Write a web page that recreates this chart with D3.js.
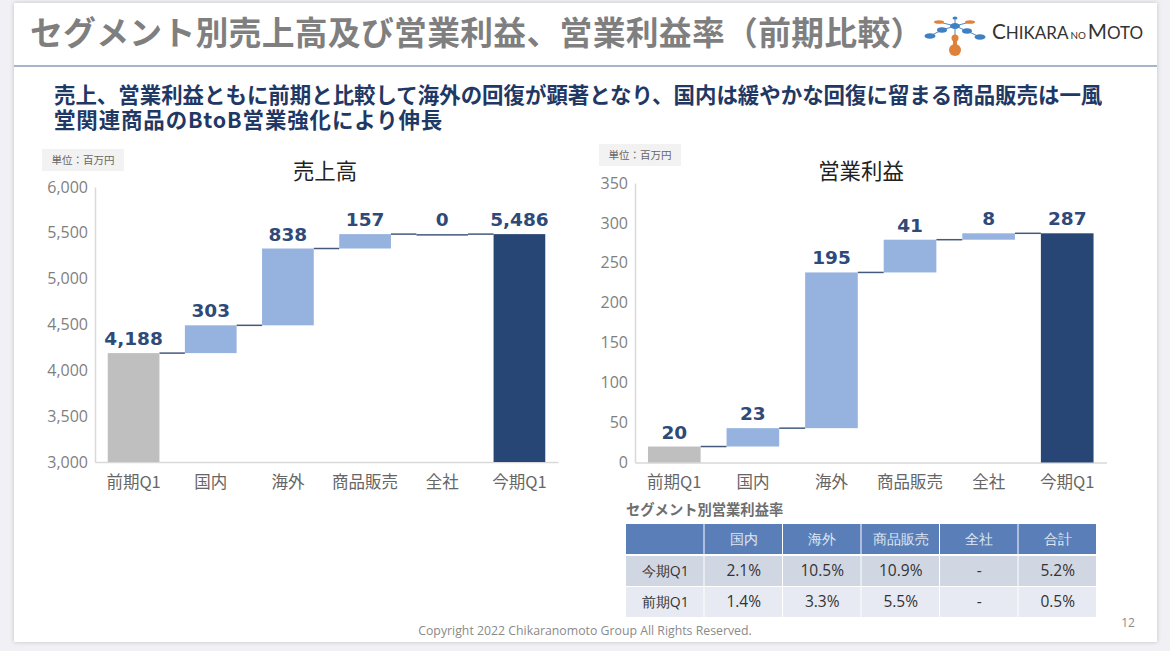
<!DOCTYPE html>
<html>
<head>
<meta charset="utf-8">
<script src="https://cdn.jsdelivr.net/npm/d3@7"></script>
<style>
html,body{margin:0;padding:0;background:#f1f1f5;}
svg{display:block;}
text{font-family:"Noto Sans CJK JP","Noto Sans",sans-serif;}
.num{font-family:"Open Sans","Noto Sans",sans-serif;}
.val{font-family:"DejaVu Sans",sans-serif;}
</style>
</head>
<body>
<div id="chart"></div>
<script>
const categories = ['前期Q1','国内','海外','商品販売','全社','今期Q1'];
const salesValues = [4188,303,838,157,0,5486];
const salesLabels = ['4,188','303','838','157','0','5,486'];
const profitValues = [20,23,195,41,8,287];
const profitLabels = ['20','23','195','41','8','287'];
const salesTicks = [3000,3500,4000,4500,5000,5500,6000];
const profitTicks = [0,50,100,150,200,250,300,350];
const tableHead = ['','国内','海外','商品販売','全社','合計'];
const tableRow1 = ['今期Q1','2.1%','10.5%','10.9%','-','5.2%'];
const tableRow2 = ['前期Q1','1.4%','3.3%','5.5%','-','0.5%'];

const W = 1170, H = 651;
const svg = d3.select('#chart').append('svg').attr('width',W).attr('height',H);

//slide
svg.append('rect').attr('x',14).attr('y',3).attr('width',1143).attr('height',639).attr('fill','#fff')
	.style('filter','drop-shadow(0 0 2px rgba(0,0,0,.2))');
svg.append('rect').attr('x',14).attr('y',65).attr('width',1143).attr('height',2).attr('fill','#a8b4c8');

svg.append('text').attr('x',30).attr('y',45).attr('letter-spacing',0.3)
	.attr('font-size',32.8).attr('font-weight',700).attr('fill','#7f7f7f')
	.text('セグメント別売上高及び営業利益、営業利益率（前期比較）');

const lead = svg.append('text').attr('font-size',21.45).attr('font-weight',700).attr('fill','#1f3864');
lead.append('tspan').attr('x',54).attr('y',103)
	.text('売上、営業利益ともに前期と比較して海外の回復が顕著となり、国内は緩やかな回復に留まる商品販売は一風');
lead.append('tspan').attr('x',54).attr('y',128).attr('letter-spacing',0.9)
	.text('堂関連商品のBtoB営業強化により伸長');

//logo
const logo = svg.append('g');
const logoMark = logo.append('g').attr('transform','translate(2,0)');
logoMark.append('path').attr('d','M928 36L940 30L953 26L965 31L978 37M937 22L953 26L968 22M953 18V26V50')
	.attr('stroke','#4f86c6').attr('stroke-width',1).attr('fill','none');
const logoBlue = [[928,36,5.5,2.8],[940,30,5,2.8],[953,26,5,3],[953,18,2.5,1.5],[965,31,5,2.8],[978,37,5.5,2.8]];
const logoOrange = [[937,22,5,1.8],[968,22,5,1.8],[953,38,3.5,3.5],[953,50,6,6]];
logoMark.selectAll('.lb').data(logoBlue).enter().append('ellipse')
	.attr('cx',d=>d[0]).attr('cy',d=>d[1]).attr('rx',d=>d[2]).attr('ry',d=>d[3]).attr('fill','#3f7fc4');
logoMark.selectAll('.lo').data(logoOrange).enter().append('ellipse')
	.attr('cx',d=>d[0]).attr('cy',d=>d[1]).attr('rx',d=>d[2]).attr('ry',d=>d[3]).attr('fill','#e0813a');
logoMark.append('rect').attr('x',951).attr('y',38).attr('width',4).attr('height',10).attr('fill','#e0813a');
const logoText = logo.append('text').attr('x',992).attr('y',39).attr('fill','#333')
	.style('font-family','Lato');
logoText.append('tspan').attr('font-size',20.7).text('C');
logoText.append('tspan').attr('font-size',17).text('HIKARA');
logoText.append('tspan').attr('font-size',9.8).attr('dx',2).text('NO');
logoText.append('tspan').attr('font-size',20.7).attr('dx',2).text('M');
logoText.append('tspan').attr('font-size',17).text('OTO');

svg.append('text').attr('x',585).attr('y',635).attr('text-anchor','middle').attr('class','num')
	.attr('font-size',12.3).attr('fill','#8a8a8a').text('Copyright 2022 Chikaranomoto Group All Rights Reserved.');
svg.append('text').attr('x',1128).attr('y',627).attr('text-anchor','middle').attr('class','num')
	.attr('font-size',12).attr('fill','#8a8a8a').text('12');

function renderWaterfall(values, labels, ticks, cfg){
	const g = svg.append('g');
	const x = d3.scaleBand().domain(categories).range([cfg.left,cfg.right]).paddingInner(0.33).paddingOuter(0.165);
	const y = d3.scaleLinear().domain(cfg.domain).range([cfg.bottom,cfg.top]);

	//steps
	let run = 0;
	const bars = values.map(function(v,i){
		if(i===0){ run = v; return {i:i,from:cfg.domain[0],to:v}; }
		if(i===values.length-1){ return {i:i,from:cfg.domain[0],to:v}; }
		const b = {i:i,from:run,to:run+v};
		run += v;
		return b;
	});

	g.append('rect').attr('x',cfg.boxX).attr('y',cfg.boxY).attr('width',cfg.boxW).attr('height',22).attr('fill','#f2f2f2');
	g.append('text').attr('x',cfg.boxX+cfg.boxW/2).attr('y',cfg.boxY+15).attr('text-anchor','middle')
		.attr('font-size',10.5).attr('fill','#666').text('単位：百万円');
	g.append('text').attr('x',cfg.titleX).attr('y',179).attr('text-anchor','middle')
		.attr('font-size',21.4).attr('fill','#222').text(cfg.title);

	//axes
	const yAxis = d3.axisLeft(y).tickValues(ticks).tickSize(0).tickPadding(7).tickFormat(d3.format(','));
	const ga = g.append('g').attr('transform',`translate(${cfg.left},0)`).call(yAxis);
	ga.select('.domain').attr('stroke','#d9d9d9').attr('stroke-width',1.5);
	ga.selectAll('text').attr('class','num').attr('font-size',16).attr('fill','#7f7f7f');

	const xAxis = d3.axisBottom(x).tickSize(0).tickPadding(14);
	const gx = g.append('g').attr('transform',`translate(0,${cfg.bottom})`).call(xAxis);
	gx.select('.domain').attr('stroke','#d9d9d9').attr('stroke-width',1.5);
	gx.selectAll('text').attr('font-size',16.5).attr('fill','#666');

	//connectors
	g.selectAll('.conn').data(bars.slice(0,-1)).enter().append('line')
		.attr('x1',d=>x(categories[d.i])+x.bandwidth())
		.attr('x2',d=>x(categories[d.i+1]))
		.attr('y1',d=>y(d.to)).attr('y2',d=>y(d.to))
		.attr('stroke','#44597c').attr('stroke-width',1.5);

	g.selectAll('.bar').data(bars).enter().append('rect')
		.attr('x',d=>x(categories[d.i]))
		.attr('y',d=>y(d.to))
		.attr('width',x.bandwidth())
		.attr('height',d=>Math.max(y(d.from)-y(d.to),d.to===d.from?1.5:0))
		.attr('fill',function(d){
			if(d.i===0) return '#bfbfbf';
			if(d.i===bars.length-1) return '#284675';
			return d.to===d.from?'#44597c':'#95b3de';
		});

	g.selectAll('.val').data(bars).enter().append('text').attr('class','val')
		.attr('x',d=>x(categories[d.i])+x.bandwidth()/2)
		.attr('y',d=>y(d.to)-8)
		.attr('text-anchor','middle').attr('font-size',18.5).attr('font-weight',700).attr('fill','#2f4a78')
		.text(d=>labels[d.i]);
}

renderWaterfall(salesValues, salesLabels, salesTicks, {
	left:95,right:558,top:187,bottom:462,domain:[3000,6000],
	title:'売上高',titleX:325,boxX:42,boxY:149,boxW:82
});
renderWaterfall(profitValues, profitLabels, profitTicks, {
	left:635,right:1106.5,top:183,bottom:462.5,domain:[0,350],
	title:'営業利益',titleX:861,boxX:599,boxY:144,boxW:82
});

//table
svg.append('text').attr('x',626).attr('y',515).attr('font-size',14.3).attr('font-weight',700).attr('fill','#6e6e6e').text('セグメント別営業利益率');

const colX = d3.scaleBand().domain(d3.range(6)).range([626,1097]);
const rows = [
	{cells:tableHead,y:524,h:30,fill:'#5a7fb8',color:'#dfe7f3'},
	{cells:tableRow1,y:556,h:30,fill:'#d1d6e3',color:'#333'},
	{cells:tableRow2,y:587,h:30,fill:'#e7eaf2',color:'#333'}
];
rows.forEach(function(r,ri){
	const row = svg.append('g');
	row.selectAll('rect').data(r.cells).enter().append('rect')
		.attr('x',(d,i)=>colX(i)).attr('y',r.y).attr('width',colX.bandwidth()-1).attr('height',r.h).attr('fill',r.fill);
	row.selectAll('text').data(r.cells).enter().append('text').attr('class','num')
		.attr('x',(d,i)=>colX(i)+colX.bandwidth()/2).attr('y',r.y+20)
		.attr('text-anchor','middle').attr('font-size',(d,i)=>(ri===0||i===0)?14:15.5).attr('fill',r.color).text(d=>d);
});
</script>
</body>
</html>
